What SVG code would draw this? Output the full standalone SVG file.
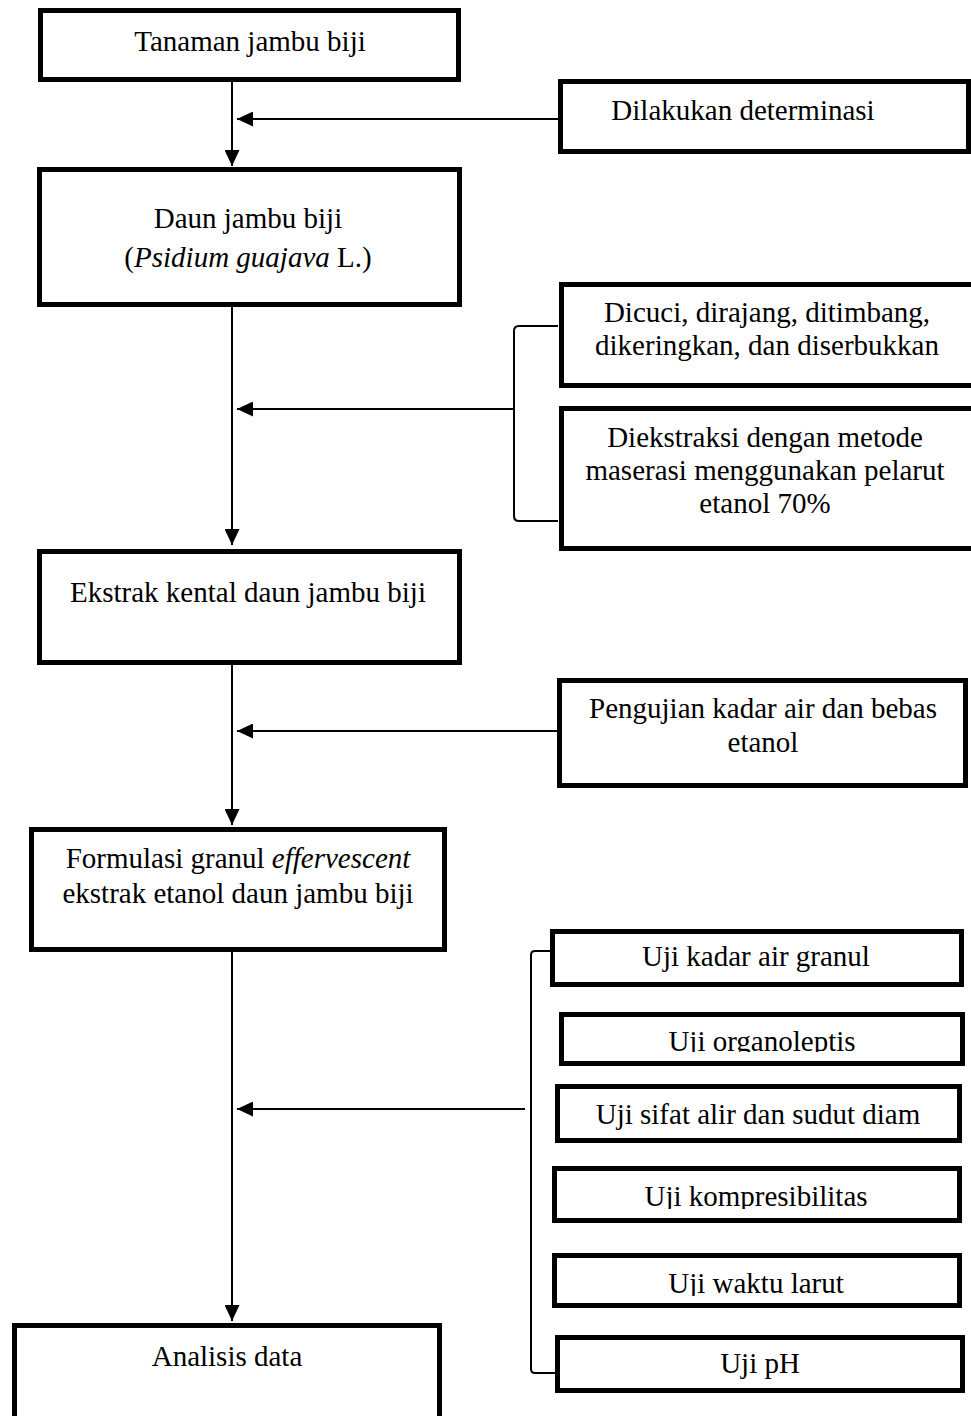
<svg xmlns="http://www.w3.org/2000/svg" width="971" height="1416" viewBox="0 0 971 1416">
<style>
.box{fill:#fff;stroke:#000;stroke-width:5}
.t{font-family:"Liberation Serif","Times New Roman",serif;font-size:29px;fill:#000;text-anchor:middle}
.i{font-style:italic}
.c{fill:none;stroke:#000;stroke-width:2}
</style>
<defs>
<marker id="ah" markerUnits="userSpaceOnUse" markerWidth="16" markerHeight="15" refX="16" refY="7.5" orient="auto">
<path d="M0,0 L16,7.5 L0,15 Z" fill="#000"/>
</marker>
<clipPath id="cl1"><rect x="550" y="1000" width="421" height="52"/></clipPath>
<clipPath id="cl2"><rect x="550" y="1160" width="421" height="49"/></clipPath>
<clipPath id="cl3"><rect x="550" y="1250" width="421" height="46"/></clipPath>
</defs>
<rect width="971" height="1416" fill="#fff"/>
<g id="connectors">
<line class="c" x1="232" y1="82" x2="232" y2="166" marker-end="url(#ah)"/>
<line class="c" x1="558" y1="119" x2="237" y2="119" marker-end="url(#ah)"/>
<line class="c" x1="232" y1="307" x2="232" y2="545" marker-end="url(#ah)"/>
<path class="c" d="M558,326 L519,326 Q514,326 514,331 L514,516 Q514,521 519,521 L558,521"/>
<line class="c" x1="514" y1="409" x2="237" y2="409" marker-end="url(#ah)"/>
<line class="c" x1="232" y1="665" x2="232" y2="825" marker-end="url(#ah)"/>
<line class="c" x1="557" y1="731" x2="237" y2="731" marker-end="url(#ah)"/>
<line class="c" x1="232" y1="952" x2="232" y2="1321" marker-end="url(#ah)"/>
<path class="c" d="M555,951 L535,951 Q531,951 531,955 L531,1369 Q531,1373 535,1373 L555,1373"/>
<line class="c" x1="525" y1="1109" x2="237" y2="1109" marker-end="url(#ah)"/>
</g>
<g id="n1"><rect class="box" x="40.5" y="10.5" width="418" height="69"/><text class="t" x="250" y="51">Tanaman jambu biji</text></g>
<g id="n2"><rect class="box" x="560.5" y="81.5" width="408" height="70"/><text class="t" x="743" y="120">Dilakukan determinasi</text></g>
<g id="n3"><rect class="box" x="39.5" y="169.5" width="420" height="135"/><text class="t" x="248" y="228">Daun jambu biji</text><text class="t" x="248" y="267">(<tspan class="i">Psidium guajava</tspan> L.)</text></g>
<g id="n4"><rect class="box" x="561.5" y="284.5" width="420" height="101"/><text class="t" x="767" y="322">Dicuci, dirajang, ditimbang,</text><text class="t" x="767" y="355">dikeringkan, dan diserbukkan</text></g>
<g id="n5"><rect class="box" x="561.5" y="408.5" width="420" height="140"/><text class="t" x="765" y="447">Diekstraksi dengan metode</text><text class="t" x="765" y="480">maserasi menggunakan pelarut</text><text class="t" x="765" y="513">etanol 70%</text></g>
<g id="n6"><rect class="box" x="39.5" y="551.5" width="420" height="111"/><text class="t" x="248" y="602">Ekstrak kental daun jambu biji</text></g>
<g id="n7"><rect class="box" x="559.5" y="680.5" width="406" height="105"/><text class="t" x="763" y="718">Pengujian kadar air dan bebas</text><text class="t" x="763" y="752">etanol</text></g>
<g id="n8"><rect class="box" x="31.5" y="829.5" width="413" height="120"/><text class="t" x="238" y="868">Formulasi granul <tspan class="i">effervescent</tspan></text><text class="t" x="238" y="903">ekstrak etanol daun jambu biji</text></g>
<g id="n9"><rect class="box" x="552.5" y="931.5" width="409" height="53"/><text class="t" x="756" y="966">Uji kadar air granul</text></g>
<g id="n10"><rect class="box" x="561.5" y="1014.5" width="401" height="49"/><text class="t" x="762" y="1051" clip-path="url(#cl1)">Uji organoleptis</text></g>
<g id="n11"><rect class="box" x="557.5" y="1086.5" width="402" height="54"/><text class="t" x="758" y="1124">Uji sifat alir dan sudut diam</text></g>
<g id="n12"><rect class="box" x="554.5" y="1168.5" width="405" height="52"/><text class="t" x="756" y="1206" clip-path="url(#cl2)">Uji kompresibilitas</text></g>
<g id="n13"><rect class="box" x="554.5" y="1255.5" width="405" height="50"/><text class="t" x="756" y="1293" clip-path="url(#cl3)">Uji waktu larut</text></g>
<g id="n14"><rect class="box" x="557.5" y="1337.5" width="405" height="53"/><text class="t" x="760" y="1373">Uji pH</text></g>
<g id="n15"><rect class="box" x="14.5" y="1325.5" width="425" height="120"/><text class="t" x="227" y="1366">Analisis data</text></g>
</svg>
